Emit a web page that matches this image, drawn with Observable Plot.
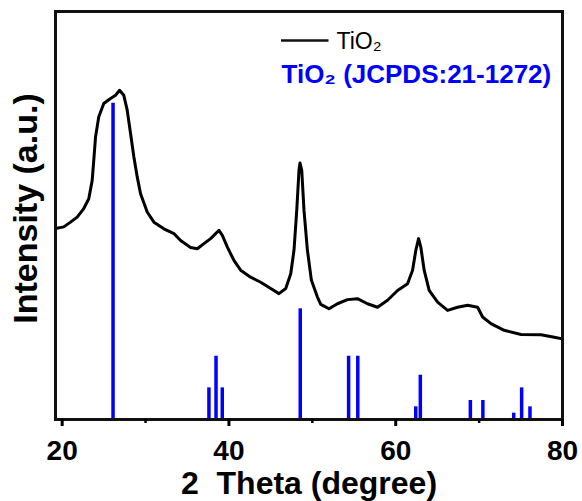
<!DOCTYPE html>
<html><head><meta charset="utf-8">
<script src="https://cdn.jsdelivr.net/npm/d3@7"></script>
<script src="https://cdn.jsdelivr.net/npm/@observablehq/plot@0.6"></script>
<style>body{margin:0;background:#fff} svg{display:block} #pad{position:absolute;left:500px;top:160px;width:2px;height:2px;background:#fff}</style>
</head><body><div id="chart"></div><div id="pad"></div>
<script>
// XRD pattern (2θ in degrees, intensity in a.u.)
const twoTheta = [19.2,20.19,21.0,21.8,22.59,23.19,23.6,23.79,24.0,24.39,24.99,25.8,26.4,26.88,27.39,27.8,28.2,28.6,29.0,29.4,30.2,31.0,32.2,33.4,34.2,35.4,36.21,37.0,37.8,38.8,39.21,39.81,40.6,41.4,42.6,43.81,45.01,46.0,46.81,47.41,47.8,48.13,48.4,48.52,48.73,49.0,49.41,49.89,50.61,51.01,52.0,53.01,54.21,55.41,56.61,57.82,59.02,60.22,61.42,62.02,62.41,62.74,63.01,63.41,64.01,65.02,66.22,67.42,68.62,69.82,70.42,71.42,73.01,75.02,77.42,79.02,80.0];
const intensity = [60.4,60.9,62.4,64.0,66.7,69.8,75.6,82.0,89.3,95.7,99.9,101.5,102.5,104.1,102.5,97.8,90.4,83.0,76.7,71.4,65.6,62.4,60.3,58.8,56.6,54.4,54.0,55.6,57.2,59.8,58.2,54.5,50.3,47.2,45.0,43.4,41.4,39.8,41.4,46.1,53.5,66.1,78.8,81.1,78.8,66.1,53.5,44.0,38.7,36.4,35.0,36.6,37.9,38.2,36.6,35.5,37.7,40.8,42.9,47.2,53.5,57.2,54.5,47.2,40.8,37.1,34.5,35.5,36.1,35.5,32.4,30.3,28.2,26.9,26.8,26.0,25.5];
// Reference pattern TiO2 (JCPDS:21-1272)
const refPos = [26.1,37.6,38.45,39.2,48.55,54.35,55.45,62.4,62.95,68.95,70.45,74.15,75.1,76.1];
const refInt = [100,10,20,10,35,20,20,4,14,6,6,2,10,4];
const xDomain = [19.2, 80];
const yDomain = [0, 129];
const majorTicks = [20,40,60,80];
const minorTicks = [30,50,70];
const xLabel = "2\u00a0\u00a0Theta (degree)";
const yLabel = "Intensity (a.u.)";
const legendSample = "TiO\u2082";
const legendRef = "TiO\u2082 (JCPDS:21-1272)";
const legendSwatchX = [46.3, 52.0];
const legendSwatchY = [119.8];

const curve = twoTheta.map((x, i) => ({x, y: intensity[i]}));
const ref = refPos.map((x, i) => ({x, y: refInt[i]}));

const font = "'Liberation Sans', Arial, Helvetica, sans-serif";
const plot = Plot.plot({
  width: 582, height: 501,
  marginLeft: 55, marginRight: 20, marginTop: 11, marginBottom: 82,
  x: {domain: xDomain},
  y: {domain: yDomain, axis: null},
  style: {fontFamily: font, background: "white", color: "black", overflow: "visible"},
  marks: [
    Plot.line(curve, {x: "x", y: "y", stroke: "black", strokeWidth: 3, strokeLinejoin: "round"}),
    Plot.ruleX(ref, {x: "x", y1: 0, y2: "y", stroke: "#0000ff", strokeWidth: 3.5}),
    Plot.frame({stroke: "#111", strokeWidth: 3}),
    Plot.axisX({ticks: majorTicks, tickSize: 7, tickPadding: 14, strokeWidth: 3, fontSize: 28, fontWeight: "bold", label: null, tickFormat: d => String(d)}),
    Plot.axisX({ticks: minorTicks, tickSize: 4, strokeWidth: 2.5, text: null, label: null}),
    Plot.text([xLabel], {text: d => d, frameAnchor: "bottom", dy: 74, fontSize: 32, fontWeight: "bold", fill: "black"}),
    Plot.text([yLabel], {text: d => d, frameAnchor: "left", textAnchor: "middle", rotate: -90, dx: -29, dy: -7, fontSize: 34, fontWeight: "bold", fill: "black"}),
    // legend
    Plot.ruleY(legendSwatchY, {x1: legendSwatchX[0], x2: legendSwatchX[1], stroke: "#111", strokeWidth: 2.5}),
    Plot.text([legendSample], {text: d => d, frameAnchor: "top-left", textAnchor: "start", lineAnchor: "top", dx: 281, dy: 21, fontSize: 23, fill: "black"}),
    Plot.text([legendRef], {text: d => d, frameAnchor: "top-left", textAnchor: "start", lineAnchor: "top", dx: 226, dy: 53, fontSize: 26, fontWeight: "bold", fill: "#0000ff"})
  ]
});
document.getElementById("chart").append(plot);
</script>
</body></html>
